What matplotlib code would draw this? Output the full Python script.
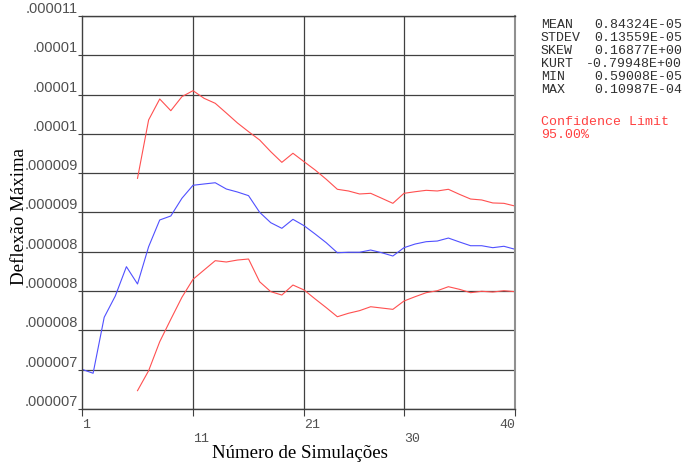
import matplotlib
matplotlib.use('Agg')
import matplotlib.pyplot as plt
from matplotlib.transforms import ScaledTranslation

# simulation number
sims = list(range(1, 41))

# mean of max deflection (x1e-6)
mean_vals = [7.124, 7.082, 7.680, 7.908, 8.221, 8.036, 8.434, 8.720, 8.763, 8.952,
             9.091, 9.105, 9.118, 9.051, 9.019, 8.980, 8.802, 8.691, 8.631, 8.727,
             8.659, 8.570, 8.477, 8.370, 8.375, 8.375, 8.399, 8.370, 8.335, 8.424,
             8.463, 8.488, 8.495, 8.527, 8.485, 8.445, 8.445, 8.424, 8.439, 8.407]

# confidence limits start at simulation 6
cl_sims = list(range(6, 41))
upper_vals = [9.165, 9.789, 10.013, 9.888, 10.038, 10.102, 10.020, 9.967, 9.863, 9.757,
              9.664, 9.575, 9.450, 9.336, 9.433, 9.343, 9.254, 9.155, 9.048, 9.030,
              8.998, 9.005, 8.952, 8.898, 9.005, 9.022, 9.037, 9.030, 9.048, 8.994,
              8.944, 8.934, 8.902, 8.898, 8.869]
lower_vals = [6.896, 7.109, 7.419, 7.659, 7.894, 8.086, 8.186, 8.285, 8.271, 8.292,
              8.303, 8.060, 7.954, 7.918, 8.025, 7.972, 7.876, 7.783, 7.686, 7.723,
              7.751, 7.793, 7.779, 7.765, 7.854, 7.900, 7.943, 7.964, 8.007, 7.979,
              7.943, 7.958, 7.950, 7.964, 7.954]

# y axis ticks (x1e-6) and their labels as printed
y_ticks = [6.7 + 0.42 * k for k in range(11)]
y_labels = ['.000007', '.000007', '.000008', '.000008', '.000008', '.000009',
            '.000009', '.00001', '.00001', '.00001', '.000011']
x_ticks = [1, 11, 21, 30, 40]

stat_names = ['MEAN', 'STDEV', 'SKEW', 'KURT', 'MIN', 'MAX']
stat_values = ['0.84324E-05', '0.13559E-05', '0.16877E+00', '-0.79948E+00',
               '0.59008E-05', '0.10987E-04']

fig = plt.figure(figsize=(6.85, 4.65), dpi=100)
ax = fig.add_axes([82 / 685, 56 / 465, 433 / 685, 393 / 465])

blue = '#5050ff'
red = '#ff5050'
ax.plot(sims, mean_vals, color=blue, lw=0.8)
ax.plot(cl_sims, upper_vals, color=red, lw=0.8)
ax.plot(cl_sims, lower_vals, color=red, lw=0.8)

ax.set_xlim(1, 40)
ax.set_ylim(y_ticks[0], y_ticks[-1])

# grid
for yv in y_ticks:
    ax.axhline(yv, color='#404040', lw=0.9, zorder=0)
for xv in x_ticks[1:-1]:
    ax.axvline(xv, color='#404040', lw=0.9, zorder=0)
for s in ax.spines.values():
    s.set_color('#404040')
    s.set_linewidth(1.0)
ax.spines['right'].set_color('#909090')
ax.spines['right'].set_linewidth(1.5)

ax.set_yticks(y_ticks)
ax.set_yticklabels(y_labels, family='Liberation Sans', fontsize=10.5, color='#505050')
ax.tick_params(axis='y', length=3, pad=0, color='#404040')
for lab in ax.get_yticklabels():
    lab.set_va('bottom')

ax.set_xticks(x_ticks)
ax.set_xticklabels([str(v) for v in x_ticks], family='Liberation Mono', fontsize=9.5,
                   color='#505050')
ax.tick_params(axis='x', length=5, pad=2, color='#404040')
for i, lab in enumerate(ax.get_xticklabels()):
    lab.set_ha('right' if i == len(x_ticks) - 1 else 'left')
    if i in (1, 3):
        lab.set_transform(lab.get_transform() + ScaledTranslation(0, -14 / 100, fig.dpi_scale_trans))

# axis titles
fig.text(300 / 685, 1 - 453 / 465, 'Número de Simulações', family='Liberation Serif',
         fontsize=13.6, ha='center', va='center')
fig.text(20 / 685, 1 - 216 / 465, 'Deflexão Máxima', family='Liberation Serif',
         fontsize=13.6, ha='center', va='center', rotation=90)

# statistics block
for i, (n, v) in enumerate(zip(stat_names, stat_values)):
    yy = 1 - (25 + 13 * i) / 465
    fig.text(541 / 685, yy, n, family='Liberation Mono', fontsize=9.5, color='#303030', va='center')
    fig.text(682 / 685, yy, v, family='Liberation Mono', fontsize=9.5, color='#303030',
             va='center', ha='right')
fig.text(541 / 685, 1 - 122 / 465, 'Confidence Limit', family='Liberation Mono', fontsize=9.5,
         color='#ff4040', va='center')
fig.text(541 / 685, 1 - 135 / 465, '95.00%', family='Liberation Mono', fontsize=9.5,
         color='#ff4040', va='center')

fig.savefig('out.png', dpi=100)
